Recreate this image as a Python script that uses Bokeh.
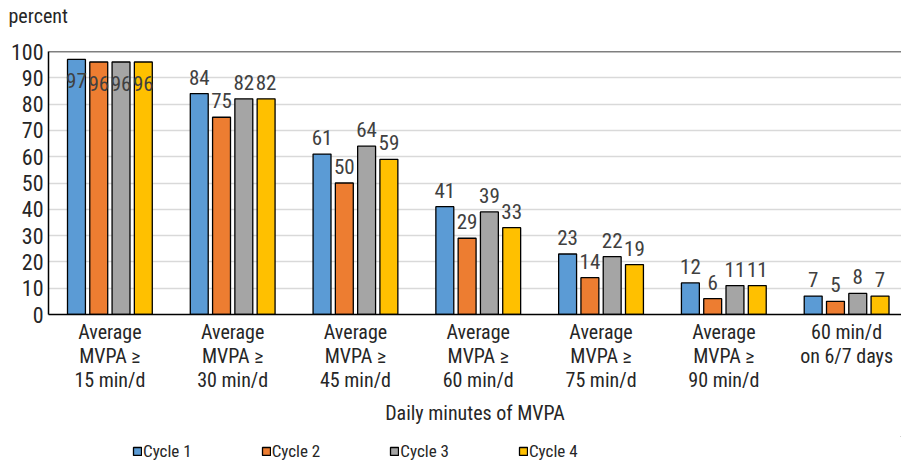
from bokeh.plotting import figure
from bokeh.layouts import column
from bokeh.models import (ColumnDataSource, Range1d, FixedTicker, Legend, LegendItem,
                          Title, Span)
from bokeh.transform import dodge
from bokeh.core.properties import value
from bokeh.embed import file_html
from bokeh.resources import INLINE

# Share of participants reaching each MVPA threshold, by survey cycle
groups = [
    "Average\nMVPA \u2265\n15 min/d",
    "Average\nMVPA \u2265\n30 min/d",
    "Average\nMVPA \u2265\n45 min/d",
    "Average\nMVPA \u2265\n60 min/d",
    "Average\nMVPA \u2265\n75 min/d",
    "Average\nMVPA \u2265\n90 min/d",
    "60 min/d\non 6/7 days",
]
cycle1 = [97, 84, 61, 41, 23, 12, 7]
cycle2 = [96, 75, 50, 29, 14, 6, 5]
cycle3 = [96, 82, 64, 39, 22, 11, 8]
cycle4 = [96, 82, 59, 33, 19, 11, 7]
series_names = ["Cycle 1", "Cycle 2", "Cycle 3", "Cycle 4"]
y_ticks = [0, 10, 20, 30, 40, 50, 60, 70, 80, 90, 100]

FONT = "Liberation Sans Narrow, Roboto Condensed, Arial Narrow, Roboto"
TEXT_COLOR = "#404040"
DARK = "#262626"
colors = ["#5B9BD5", "#ED7D31", "#A5A5A5", "#FFC000"]

xpos = list(range(len(groups)))
src = ColumnDataSource(dict(
    x=xpos,
    c1=cycle1, c2=cycle2, c3=cycle3, c4=cycle4,
    t1=[str(v) for v in cycle1], t2=[str(v) for v in cycle2],
    t3=[str(v) for v in cycle3], t4=[str(v) for v in cycle4],
))

p = figure(width=901, height=436, output_backend="svg", toolbar_location=None,
           x_range=Range1d(-0.5, 6.447), y_range=Range1d(0, 100),
           min_border_left=48, min_border_right=0, min_border_top=51,
           min_border_bottom=122)
p.outline_line_color = None
p.background_fill_color = "white"
p.border_fill_color = "white"

# "percent" unit caption, lifted above the frame by an empty spacer title
p.title = Title(text="percent", align="left", offset=-40, standoff=2,
                text_font=FONT, text_font_size="20px", text_font_style="normal",
                text_color=DARK)
p.add_layout(Title(text=" ", text_font_size="10px", standoff=10), "above")

# axes
p.yaxis.ticker = FixedTicker(ticks=y_ticks)
p.yaxis.major_tick_out = 0
p.yaxis.major_tick_in = 0
p.yaxis.minor_tick_line_color = None
p.yaxis.axis_line_color = "black"
p.yaxis.axis_line_width = 1.5
p.yaxis.major_label_standoff = 5
p.yaxis.major_label_text_font = FONT
p.yaxis.major_label_text_font_size = "22px"
p.yaxis.major_label_text_color = DARK

p.xaxis.ticker = FixedTicker(ticks=xpos)
p.xaxis.major_label_overrides = {i: g for i, g in enumerate(groups)}
p.xaxis.major_tick_out = 0
p.xaxis.major_tick_in = 0
p.xaxis.minor_tick_line_color = None
p.xaxis.axis_line_color = "black"
p.xaxis.axis_line_width = 1.5
p.xaxis.major_label_standoff = 5
p.xaxis.major_label_text_font = FONT
p.xaxis.major_label_text_font_size = "20px"
p.xaxis.major_label_text_color = DARK
p.xaxis.major_label_text_line_height = 1.0
p.xaxis.axis_label = "Daily minutes of MVPA"
p.xaxis.axis_label_text_font = FONT
p.xaxis.axis_label_text_font_size = "20px"
p.xaxis.axis_label_text_font_style = "normal"
p.xaxis.axis_label_text_color = DARK
p.xaxis.axis_label_standoff = 6

p.xgrid.grid_line_color = None
p.ygrid.grid_line_color = "#D9D9D9"
p.ygrid.grid_line_width = 1.5
p.add_layout(Span(location=100, dimension="width", line_color="black", line_width=1.5))

step = 0.1815
width = 0.146
keys = ["c1", "c2", "c3", "c4"]
tkeys = ["t1", "t2", "t3", "t4"]
for i, (k, tk, col) in enumerate(zip(keys, tkeys, colors)):
    off = (i - 1.5) * step
    p.vbar(x=dodge("x", off, range=p.x_range), top=k, width=width, source=src,
           fill_color=col, line_color="black", line_width=1.3)
    # value labels: above the bars, except the first group where they sit inside
    first = ColumnDataSource(dict(x=[0], y=[src.data[k][0]], t=[src.data[tk][0]]))
    rest = ColumnDataSource(dict(x=xpos[1:], y=src.data[k][1:], t=src.data[tk][1:]))
    p.text(x=dodge("x", off, range=p.x_range), y="y", text="t", source=rest,
           text_font=value(FONT), text_font_size="21px", text_color=TEXT_COLOR,
           text_align="center", text_baseline="bottom", y_offset=-9)
    p.text(x=dodge("x", off, range=p.x_range), y="y", text="t", source=first,
           text_font=value(FONT), text_font_size="21px", text_color=TEXT_COLOR,
           text_align="center", text_baseline="middle", y_offset=21)

# legend strip under the chart (swatch renderers sit outside the visible range)
lg = figure(width=901, height=25, output_backend="svg", toolbar_location=None,
            x_axis_type=None, y_axis_type=None, x_range=Range1d(0, 1), y_range=Range1d(0, 1),
            min_border_left=0, min_border_right=0, min_border_top=0, min_border_bottom=0)
lg.outline_line_color = None
lg.xgrid.grid_line_color = None
lg.ygrid.grid_line_color = None
offscreen = ColumnDataSource(dict(x=[5], top=[5], bottom=[4]))
swatches = [lg.vbar(x="x", top="top", bottom="bottom", width=0.1, source=offscreen,
                    fill_color=c, line_color="black", line_width=1.3) for c in colors]
legend = Legend(items=[LegendItem(label=n, renderers=[r]) for n, r in zip(series_names, swatches)],
                orientation="horizontal", location=(84, 0),
                glyph_width=10, glyph_height=10, label_standoff=1, spacing=69,
                padding=0, margin=0, border_line_color=None, background_fill_alpha=0,
                label_text_font=FONT, label_text_font_size="17px",
                label_text_color=DARK, label_height=12)
lg.add_layout(legend, "center")

layout = column(p, lg, spacing=0)
open("out.html", "w").write(file_html(layout, INLINE))
